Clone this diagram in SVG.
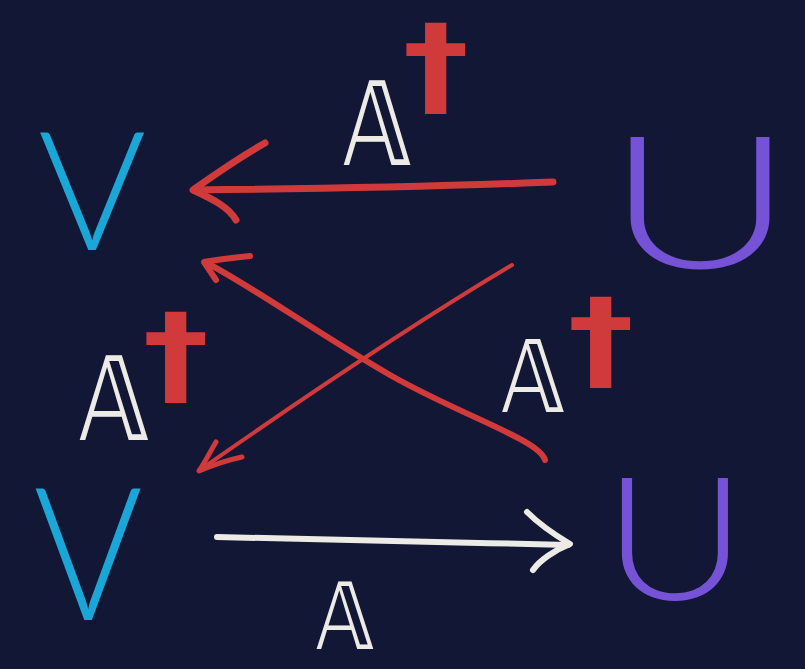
<svg xmlns="http://www.w3.org/2000/svg" width="805" height="669" viewBox="0 0 805 669">
<defs>
<style>
.bg{fill:#131736}
.v{fill:#1aa6d6;font-family:"Lato","Liberation Sans",sans-serif;font-weight:300}
.u{fill:#7653d6;font-family:"Lato","Liberation Sans",sans-serif;font-weight:300}
.a{fill:#ecebe6;font-family:"DejaVu Sans",sans-serif}
.d{fill:#d13a3a;font-family:"DejaVu Sans",sans-serif;font-weight:bold}
.r{fill:none;stroke:#d13a3a;stroke-linecap:round;stroke-linejoin:round}
.w{fill:none;stroke:#ecebe6;stroke-linecap:round;stroke-linejoin:round}
</style>
</defs>
<rect class="bg" width="805" height="669"/>
<g id="V1"><text class="v" x="92" y="250" font-size="165" text-anchor="middle">V</text></g>
<g id="U1"><text class="u" transform="translate(700,268) scale(1.4,1)" x="0" y="0" font-size="185" text-anchor="middle">U</text></g>
<g id="V2"><text class="v" transform="translate(88,620) scale(0.9,1)" x="0" y="0" font-size="185" text-anchor="middle">V</text></g>
<g id="U2"><text class="u" transform="translate(675,600) scale(1.15,1)" x="0" y="0" font-size="172" text-anchor="middle">U</text></g>
<g id="labelTop">
<text class="a" transform="translate(377,165) scale(0.8,1)" x="0" y="0" font-size="115" text-anchor="middle">𝔸</text>
<text class="d" transform="translate(436,103) scale(1.2,1)" x="0" y="0" font-size="110" text-anchor="middle">†</text>
</g>
<g id="labelLeft">
<text class="a" transform="translate(114,440) scale(0.82,1)" x="0" y="0" font-size="115" text-anchor="middle">𝔸</text>
<text class="d" transform="translate(176,392) scale(1.2,1)" x="0" y="0" font-size="110" text-anchor="middle">†</text>
</g>
<g id="labelRight">
<text class="a" transform="translate(533,412) scale(0.85,1)" x="0" y="0" font-size="100" text-anchor="middle">𝔸</text>
<text class="d" transform="translate(601,377) scale(1.2,1)" x="0" y="0" font-size="110" text-anchor="middle">†</text>
</g>
<g id="labelBottom">
<text class="a" transform="translate(345,649) scale(0.85,1)" x="0" y="0" font-size="92" text-anchor="middle">𝔸</text>
</g>
<g id="connectors">
<path class="r" stroke-width="7" d="M553,182 C450,186 300,189 194,190"/>
<path class="r" stroke-width="7" d="M265,143 C235,160 210,178 193,190 C210,198 228,206 236,220"/>
<path class="r" stroke-width="6" d="M545,460 C540,440 460,415 390,375 C320,335 250,285 205,262"/>
<path class="r" stroke-width="6" d="M250,256 C230,258 215,260 204,262 C208,268 212,274 216,280"/>
<path class="r" stroke-width="4" d="M512,265 C420,320 300,400 200,470"/>
<path class="r" stroke-width="5" d="M216,442 C210,452 205,462 199,471 C215,464 228,460 242,457"/>
<path class="w" stroke-width="6" d="M217,537 C330,540 450,542 568,545"/>
<path class="w" stroke-width="6" d="M527,512 C540,525 555,535 570,544 C555,550 540,560 533,570"/>
</g>
</svg>
